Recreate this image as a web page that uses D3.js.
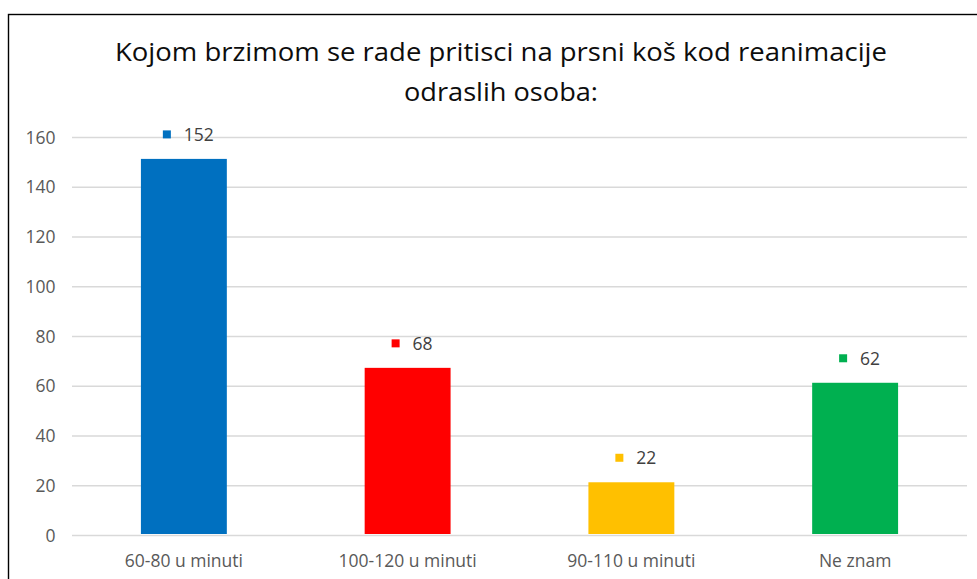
<!DOCTYPE html>
<html><head><meta charset="utf-8">
<script src="https://cdn.jsdelivr.net/npm/d3@7"></script>
<style>body{margin:0;background:#fff}svg{display:block}</style>
</head><body>
<svg id="c" width="977" height="579"></svg>
<script>
const categories = ["60-80 u minuti", "100-120 u minuti", "90-110 u minuti", "Ne znam"];
const values = [152, 68, 22, 62];
const colors = ["#0070C0", "#FF0000", "#FFC000", "#00B050"];
const yTicks = [0, 20, 40, 60, 80, 100, 120, 140, 160];
const titleLines = ["Kojom brzimom se rade pritisci na prsni koš kod reanimacije", "odraslih osoba:"];

(function () {
const svg = d3.select("#c");
const font = "'Open Sans', Lato, sans-serif";

svg.append("rect").attr("x", 8.5).attr("y", 14.5).attr("width", 990).attr("height", 600)
  .attr("fill", "#fff").attr("stroke", "#000").attr("stroke-width", 1.4);

const pLeft = 72, pRight = 967, pTop = 137.5, pBottom = 535.5;
const x = d3.scaleBand().domain(categories).range([pLeft, pRight]).paddingInner(0.616).paddingOuter(0.308);
const y = d3.scaleLinear().domain([0, 160]).range([pBottom, pTop]);

// gridlines
svg.append("g").selectAll("line").data(yTicks).join("line")
  .attr("x1", pLeft).attr("x2", pRight)
  .attr("y1", d => y(d)).attr("y2", d => y(d))
  .attr("stroke", "#d9d9d9").attr("stroke-width", 1.3);

// y axis
const yAxis = d3.axisLeft(y).tickValues(yTicks).tickSize(0).tickPadding(0);
const gy = svg.append("g").attr("transform", `translate(55.5,0)`).call(yAxis);
gy.select(".domain").remove();
gy.selectAll("text").attr("font-family", font).attr("font-size", 17.5).attr("fill", "#595959");

// x axis
const xAxis = d3.axisBottom(x).tickSize(0).tickPadding(0);
const gx = svg.append("g").attr("transform", `translate(0,${pBottom + 19})`).call(xAxis);
gx.select(".domain").remove();
gx.selectAll("text").attr("font-family", font).attr("font-size", 17.5).attr("fill", "#595959");

// bars (end just above the zero gridline)
svg.append("g").selectAll("rect").data(values).join("rect")
  .attr("x", (d, i) => x(categories[i]))
  .attr("width", x.bandwidth())
  .attr("y", d => y(d) + 1.5)
  .attr("height", d => y(0) - y(d) - 3)
  .attr("fill", (d, i) => colors[i]);

// data labels with legend key squares
const lab = svg.append("g").selectAll("g").data(values).join("g");
lab.each(function (d, i) {
  const g = d3.select(this);
  const t = g.append("text").attr("x", 21).attr("y", 0).attr("dy", "0.35em")
    .attr("font-family", font).attr("font-size", 17.5).attr("fill", "#404040").text(d);
  g.append("rect").attr("x", 0).attr("y", -4.5).attr("width", 8).attr("height", 8).attr("fill", colors[i]);
  const w = 21 + t.node().getComputedTextLength();
  const cx = x(categories[i]) + x.bandwidth() / 2 + 4.5;
  g.attr("transform", `translate(${cx - w / 2},${y(d) - 22.5})`);
});

// title
const lens = [772, 194];
svg.append("g").selectAll("text").data(titleLines).join("text")
  .attr("x", 501).attr("y", (d, i) => 52 + i * 40).attr("dy", "0.35em")
  .attr("text-anchor", "middle").attr("font-family", font).attr("font-size", 25)
  .attr("textLength", (d, i) => lens[i]).attr("lengthAdjust", "spacingAndGlyphs")
  .attr("fill", "#0d0d0d").text(d => d);
})();
</script>
</body></html>
